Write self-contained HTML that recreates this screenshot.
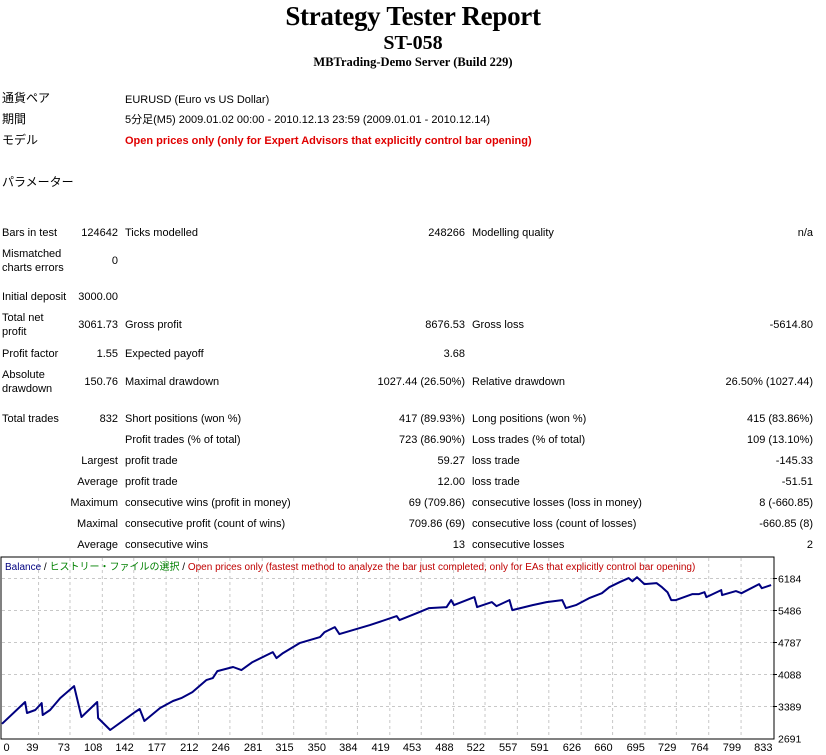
<!DOCTYPE html>
<html><head><meta charset="utf-8">
<style>
body{margin:0;width:826px;height:755px;background:#fff;position:relative;overflow:hidden;font-family:"Liberation Sans","Noto Sans CJK JP",sans-serif;font-size:11px;color:#000}
.t{position:absolute;white-space:nowrap;line-height:14px}
.r{text-align:right}
.h{position:absolute;left:0;width:826px;text-align:center;font-family:"Liberation Serif",serif;font-weight:bold;white-space:nowrap}
</style></head><body>
<div class="h" style="top:1px;font-size:27px;letter-spacing:-0.3px">Strategy Tester Report</div>
<div class="h" style="top:32px;font-size:20px">ST-058</div>
<div class="h" style="top:55px;font-size:12.5px">MBTrading-Demo Server (Build 229)</div>

<div class="t" style="left:2px;top:91px;font-size:12px">通貨ペア</div>
<div class="t" style="left:125px;top:93px">EURUSD (Euro vs US Dollar)</div>
<div class="t" style="left:2px;top:112px;font-size:12px">期間</div>
<div class="t" style="left:125px;top:113px">5分足(M5) 2009.01.02 00:00 - 2010.12.13 23:59 (2009.01.01 - 2010.12.14)</div>
<div class="t" style="left:2px;top:133px;font-size:12px">モデル</div>
<div class="t" style="left:125px;top:134px;color:#e00000;font-weight:bold">Open prices only (only for Expert Advisors that explicitly control bar opening)</div>
<div class="t" style="left:2px;top:175px;font-size:12px">パラメーター</div>

<div id="stats"></div>

<svg id="chart" width="826" height="200" style="position:absolute;left:0;top:555px" font-family="Liberation Sans, Noto Sans CJK JP, sans-serif" font-size="11"></svg>

<script>
// stats rows: [y, label1, val1, label2, val2, label3, val3]
var rows=[
[226,"Bars in test","124642","Ticks modelled","248266","Modelling quality","n/a"],
[247,"Mismatched<br>charts errors","0","","","",""],
[290,"Initial deposit","3000.00","","","",""],
[311,"Total net<br>profit","3061.73","Gross profit","8676.53","Gross loss","-5614.80"],
[347,"Profit factor","1.55","Expected payoff","3.68","",""],
[368,"Absolute<br>drawdown","150.76","Maximal drawdown","1027.44 (26.50%)","Relative drawdown","26.50% (1027.44)"],
[412,"Total trades","832","Short positions (won %)","417 (89.93%)","Long positions (won %)","415 (83.86%)"],
[433,"","","Profit trades (% of total)","723 (86.90%)","Loss trades (% of total)","109 (13.10%)"],
[454,"","Largest","profit trade","59.27","loss trade","-145.33"],
[475,"","Average","profit trade","12.00","loss trade","-51.51"],
[496,"","Maximum","consecutive wins (profit in money)","69 (709.86)","consecutive losses (loss in money)","8 (-660.85)"],
[517,"","Maximal","consecutive profit (count of wins)","709.86 (69)","consecutive loss (count of losses)","-660.85 (8)"],
[538,"","Average","consecutive wins","13","consecutive losses","2"]
];
var st=document.getElementById('stats');
rows.forEach(function(r,i){
  var two=r[1].indexOf('<br>')>=0;
  var vy=two? r[0]+7 : r[0];
  function add(html,left,right,y,nm){
    if(!html)return;
    var d=document.createElement('div');
    d.className='t'+(right?' r':'');
    d.style.top=y+'px';
    if(right){d.style.left=(right-250)+'px';d.style.width='250px';}else d.style.left=left+'px';
    d.innerHTML=html;
    
    
    st.appendChild(d);
  }
  add(r[1],2,0,r[0],'stat-label');
  add(r[2],0,118,vy,'stat-value');
  add(r[3],125,0,vy,'stat-label');
  add(r[4],0,465,vy,'stat-value');
  add(r[5],472,0,vy,'stat-label');
  add(r[6],0,813,vy,'stat-value');
});
</script>

<script>
var xTickLabels=[0,39,73,108,142,177,212,246,281,315,350,384,419,453,488,522,557,591,626,660,695,729,764,799,833];
var yTickLabels=[6184,5486,4787,4088,3389,2691];
var trades=[0,25,27,36,43,44,52,63,78,86,103,104,117,144,149,154,171,185,194,206,221,228,233,250,259,271,293,297,304,322,344,349,360,365,398,427,430,449,462,481,486,489,511,514,530,535,549,552,574,589,606,610,621,635,649,657,668,678,682,687,695,708,714,720,724,729,747,754,760,762,778,779,794,800,819,822,832];
var balance=[3000,3476,3236,3302,3454,3193,3302,3563,3825,3149,3476,3127,2865,3258,3324,3062,3345,3498,3563,3694,3956,3999,4152,4240,4174,4349,4567,4436,4545,4763,4894,5003,5112,4959,5155,5352,5265,5417,5526,5548,5701,5592,5766,5548,5657,5570,5701,5483,5592,5657,5701,5526,5592,5744,5853,5984,6093,6181,6115,6202,6050,6072,5984,5875,5701,5701,5832,5832,5875,5766,5919,5810,5897,5853,6050,5962,6028];

var svg=document.getElementById('chart');
var NS='http://www.w3.org/2000/svg';
var L=2,R=773,T=3,B=183; // plot box (local coords)
var yMin=2691,yMax=6184,yBot=183,yTop=23;
var xMax=833;
function xs(t){return L+(t/xMax)*(R-1-L);}
function ys(v){return yBot-(v-yMin)/(yMax-yMin)*(yBot-yTop);}
function el(tag,attrs,nm){var e=document.createElementNS(NS,tag);for(var k in attrs)e.setAttribute(k,attrs[k]);return e;}

var frame=el('rect',{x:L-1,y:T-1,width:R-L+2,height:B-T+2,fill:'#fff',stroke:'#000','stroke-width':1});


svg.appendChild(frame);

xTickLabels.forEach(function(v,i){
  var x=xs(v)+0.5;
  if(i>0&&i<xTickLabels.length-1){
    var g=el('line',{x1:x,x2:x,y1:T,y2:B,stroke:'#c8c8c8','stroke-dasharray':'3,3'});
    
    
    svg.appendChild(g);
  }
  var tx=el('text',{x:(i==0?x+1:x),y:196,'text-anchor':(i==0?'start':'end'),fill:'#000'});
  tx.textContent=v;
  
  
  svg.appendChild(tx);
});
yTickLabels.forEach(function(v,i){
  var y=Math.round(ys(v))+0.5;
  if(i<yTickLabels.length-1){
    var g=el('line',{x1:L,x2:R,y1:y,y2:y,stroke:'#c8c8c8','stroke-dasharray':'3,3'});
    
    
    svg.appendChild(g);
    var tk=el('line',{x1:R,x2:R+4,y1:y,y2:y,stroke:'#000'});
    
    
    svg.appendChild(tk);
  }
  var tx=el('text',{x:778,y:y+4,fill:'#000','font-size':'10.5'});
  tx.textContent=v;
  
  
  svg.appendChild(tx);
});

var pts=trades.map(function(t,i){return xs(t).toFixed(1)+','+ys(balance[i]).toFixed(1);}).join(' ');
var line=el('polyline',{points:pts,fill:'none',stroke:'#000080','stroke-width':2,'stroke-linejoin':'round'});


svg.appendChild(line);

var leg=el('text',{x:5,y:15,'font-size':'10'});
leg.innerHTML='<tspan fill="#000080">Balance</tspan><tspan fill="#000"> / </tspan><tspan fill="#008000">ヒストリー・ファイルの選択</tspan><tspan fill="#000"> / </tspan><tspan fill="#c00000">Open prices only (fastest method to analyze the bar just completed, only for EAs that explicitly control bar opening)</tspan>';


svg.appendChild(leg);
</script>
</body></html>
